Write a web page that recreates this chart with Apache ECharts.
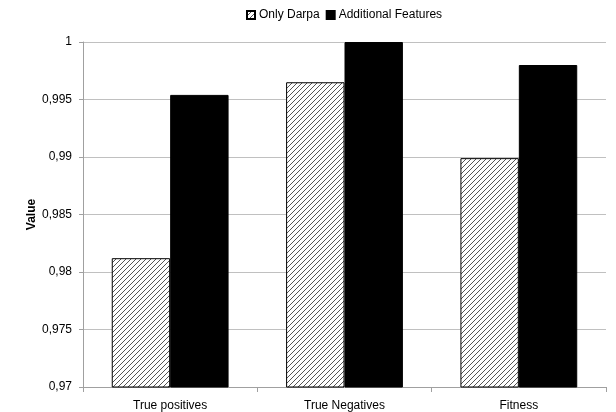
<!DOCTYPE html>
<html>
<head>
<meta charset="utf-8">
<script src="https://cdn.jsdelivr.net/npm/echarts@6/dist/echarts.min.js"></script>
<style>
html,body{margin:0;padding:0;background:#fff;}
#chart{width:616px;height:412px;}
</style>
</head>
<body>
<div id="chart"></div>
<script>
var categories = ['True positives', 'True Negatives', 'Fitness'];
var onlyDarpa = [0.9812, 0.9965, 0.9899];
var additionalFeatures = [0.9954, 1.0, 0.998];
var seriesNames = ['Only Darpa', 'Additional Features'];
var yTicks = [0.97, 0.975, 0.98, 0.985, 0.99, 0.995, 1];

function hatch() {
  var c = document.createElement('canvas');
  c.width = 5; c.height = 5;
  var g = c.getContext('2d');
  g.fillStyle = '#fff';
  g.fillRect(0, 0, 5, 5);
  g.strokeStyle = '#555';
  g.lineWidth = 1;
  g.beginPath();
  g.moveTo(-1, 6); g.lineTo(6, -1);
  g.moveTo(-1, 1); g.lineTo(1, -1);
  g.moveTo(4, 6); g.lineTo(6, 4);
  g.stroke();
  return c;
}

var chart = echarts.init(document.getElementById('chart'), null, {renderer: 'canvas'});
var fontFam = 'Liberation Sans, Arial, sans-serif';
chart.setOption({
  animation: false,
  backgroundColor: '#fff',
  legend: {
    left: 241, top: 4,
    itemWidth: 8, itemHeight: 8, itemGap: 6,
    icon: 'rect',
    textStyle: {fontFamily: fontFam, fontSize: 12, color: '#000', padding: [0,0,0,-1]},
    data: seriesNames
  },
  grid: {left: 83, right: 10, top: 42, bottom: 25, containLabel: false},
  xAxis: {
    type: 'category',
    data: categories,
    axisLine: {lineStyle: {color: '#a0a0a0', width: 1}},
    axisTick: {show: true, length: 5, lineStyle: {color: '#a0a0a0'}},
    axisLabel: {fontFamily: fontFam, fontSize: 12, color: '#000', margin: 13}
  },
  yAxis: {
    type: 'value',
    min: 0.97, max: 1, interval: 0.005,
    name: 'Value',
    nameLocation: 'middle',
    nameGap: 45,
    nameMoveOverlap: false,
    nameTextStyle: {fontFamily: fontFam, fontSize: 12, fontWeight: 'bold', color: '#000'},
    axisLine: {show: true, lineStyle: {color: '#a0a0a0'}},
    axisTick: {show: true, length: 4, lineStyle: {color: '#a0a0a0'}},
    splitLine: {lineStyle: {color: '#c0c0c0'}},
    axisLabel: {
      fontFamily: fontFam, fontSize: 12, color: '#000', margin: 11,
      formatter: function (v) {
        var s = yTicks.find(function (t) { return Math.abs(t - v) < 1e-9; });
        if (s === undefined) s = v;
        return String(+s.toFixed(3)).replace('.', ',');
      }
    }
  },
  series: [
    {
      name: seriesNames[0], type: 'bar', data: onlyDarpa,
      barGap: '0%', barCategoryGap: '33%',
      itemStyle: {color: {image: hatch(), repeat: 'repeat'}, borderColor: '#000', borderWidth: 1}
    },
    {
      name: seriesNames[1], type: 'bar', data: additionalFeatures,
      itemStyle: {color: '#000', borderColor: '#000', borderWidth: 1}
    }
  ]
});
</script>
</body>
</html>
